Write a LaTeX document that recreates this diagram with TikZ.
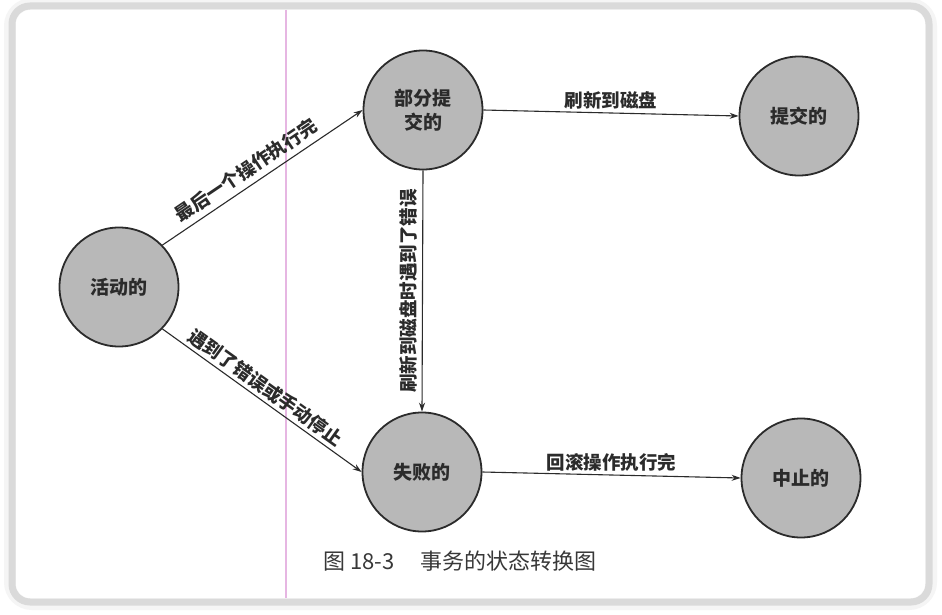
\documentclass[tikz,border=0pt]{standalone}
\usepackage{fontspec}
\newfontfamily\cjk{Noto Sans CJK SC}
\usetikzlibrary{arrows.meta}
\definecolor{ink}{HTML}{2B2B2B}
\definecolor{disc}{HTML}{B8B8B8}
\definecolor{margin}{HTML}{E6B6E2}
\definecolor{rim}{HTML}{DADADA}
\begin{document}
\begin{tikzpicture}[x=1pt,y=-1pt,
  state/.style={circle,draw=ink,line width=1.8pt,fill=disc,minimum size=119pt,
    inner sep=0pt,align=center,text=ink,
    font=\cjk\bfseries\fontsize{19}{24}\selectfont},
  link/.style={draw=ink,line width=1.1pt,-{Stealth[length=9pt,width=6pt]}},
  tag/.style={text=ink,inner sep=3pt,font=\cjk\bfseries\fontsize{18.5}{22}\selectfont}]
\useasboundingbox (0,0) rectangle (942,615);
% page with a soft rounded rim
\fill[white] (0,0) rectangle (942,615);
\draw[line width=16pt,black!4,rounded corners=20pt] (12,6) rectangle (929,602);
\draw[line width=7pt,rim,rounded corners=18pt] (12,6) rectangle (929,602);
\fill[white,rounded corners=14pt] (16,10) rectangle (925,598);
% margin rule
\draw[margin,line width=2pt] (286,10) -- (286,598);

% states
\node[state] (act)   at (119,287) {活动的};
\node[state] (part)  at (423,110) {部分提\\交的};
\node[state] (comm)  at (799,116) {提交的};
\node[state] (fail)  at (422,472) {失败的};
\node[state] (abort) at (801,478) {中止的};

% transitions
\draw[link] (act.44) -- node[tag,sloped,above=3pt,pos=0.46]{最后一个操作执行完} (part.west);
\draw[link] (act.-44) -- node[tag,sloped,above,pos=0.48]{遇到了错误或手动停止} (fail.west);
\draw[link] (part.east) -- node[tag,above]{刷新到磁盘} (comm.west);
\draw[link] (part.south) -- node[tag,midway,rotate=90,anchor=south,inner sep=5pt]{刷新到磁盘时遇到了错误} (fail.north);
\draw[link] (fail.east) -- node[tag,above]{回滚操作执行完} (abort.west);

% caption
\node[text=black!78,font=\cjk\fontsize{22}{26}\selectfont] (cap) at (460,561)
  {图 18-3\hspace{1.2em}事务的状态转换图};
\end{tikzpicture}
\end{document}
